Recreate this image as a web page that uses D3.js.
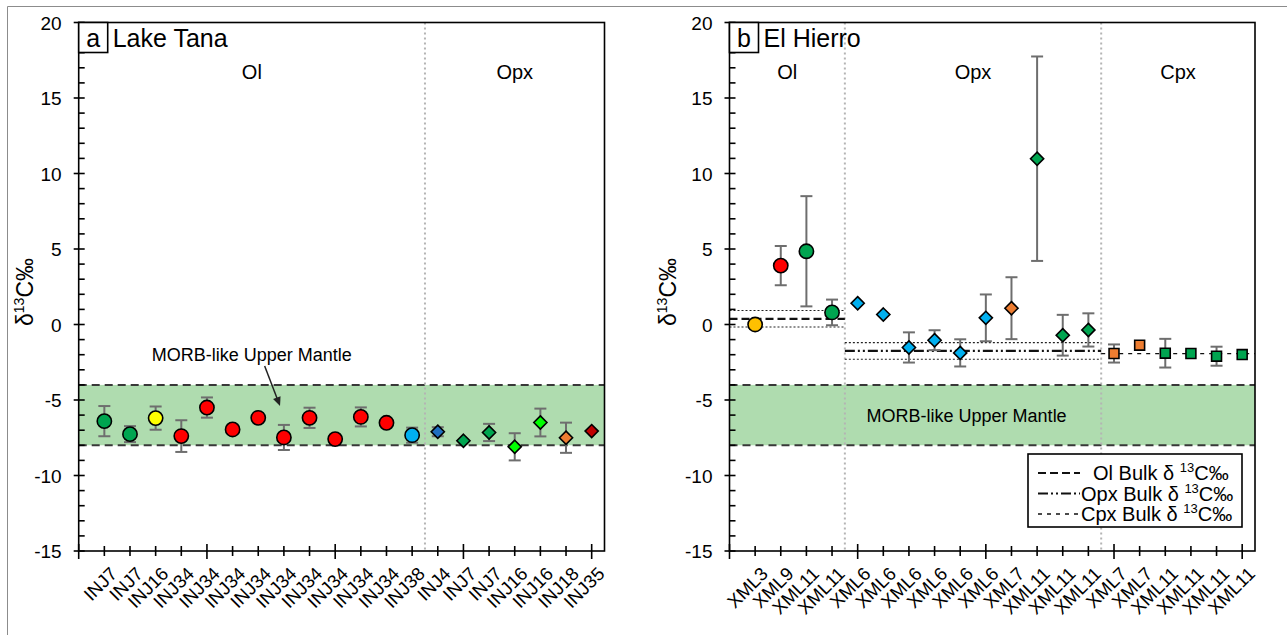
<!DOCTYPE html>
<html>
<head>
<meta charset="utf-8">
<script src="https://cdn.jsdelivr.net/npm/d3@7/dist/d3.min.js"></script>
<style>
  html, body { margin: 0; padding: 0; background: #fff; }
  svg { display: block; font-family: "Liberation Sans", Arial, sans-serif; }
</style>
</head>
<body>
<svg id="chart" width="1287" height="635"></svg>
<script>
// ---- Panel a: Lake Tana ----
const aLabels = ["INJ7","INJ7","INJ16","INJ34","INJ34","INJ34","INJ34","INJ34","INJ34","INJ34","INJ34","INJ34","INJ38",
                 "INJ4","INJ7","INJ7","INJ16","INJ16","INJ18","INJ35"];
const aValues = [-6.40,-7.26,-6.20,-7.39,-5.50,-6.95,-6.18,-7.48,-6.18,-7.59,-6.12,-6.51,-7.33,
                 -7.10,-7.70,-7.15,-8.10,-6.49,-7.50,-7.06];
const aErrors = [1.00,0.53,0.77,1.05,0.67,0,0,0.83,0.67,0,0.63,0,0.50,
                 0.30,0,0.57,0.90,0.92,1.00,0];
const aColors = ["#00a550","#00a550","#ffff00","#ff0000","#ff0000","#ff0000","#ff0000","#ff0000","#ff0000","#ff0000","#ff0000","#ff0000","#00b0f0",
                 "#1f6fc0","#00a550","#00a550","#00ff00","#00ff00","#ed7d31","#c00000"];
const aShapes = ["circle","circle","circle","circle","circle","circle","circle","circle","circle","circle","circle","circle","circle",
                 "diamond","diamond","diamond","diamond","diamond","diamond","diamond"];
const aGroups = [{name:"Ol", from:0, to:13.5}, {name:"Opx", from:13.5, to:20.5}];

// ---- Panel b: El Hierro ----
const bLabels = ["XML3","XML9","XML11","XML11",
                 "XML6","XML6","XML6","XML6","XML6","XML6","XML7","XML11","XML11","XML11",
                 "XML7","XML7","XML11","XML11","XML11","XML11"];
const bValues = [0.00,3.90,4.85,0.80,
                 1.41,0.66,-1.52,-1.04,-1.88,0.44,1.08,10.98,-0.71,-0.36,
                 -1.92,-1.37,-1.90,-1.92,-2.10,-1.99];
const bErrors = [0.30,1.30,3.65,0.85,
                 0,0,1.00,0.66,0.90,1.55,2.05,6.77,1.35,1.10,
                 0.60,0,0.95,0,0.63,0];
const bColors = ["#ffc000","#ff0000","#00a550","#00a550",
                 "#00b0f0","#00b0f0","#00b0f0","#00b0f0","#00b0f0","#00b0f0","#ed7d31","#00a550","#00a550","#00a550",
                 "#ed7d31","#ed7d31","#00a550","#00a550","#00a550","#00a550"];
const bShapes = ["circle","circle","circle","circle",
                 "diamond","diamond","diamond","diamond","diamond","diamond","diamond","diamond","diamond","diamond",
                 "square","square","square","square","square","square"];
const bGroups = [{name:"Ol", from:0, to:4.5}, {name:"Opx", from:4.5, to:14.5}, {name:"Cpx", from:14.5, to:20.5}];

// Bulk δ13C levels (mean and spread) for El Hierro minerals
const bulkMineral = ["Ol","Opx","Cpx"];
const bulkMean    = [0.37,-1.75,-1.93];
const bulkHigh    = [0.93,-1.20,null];
const bulkLow     = [-0.17,-2.30,null];

// MORB-like upper mantle range
const morbRange = [-8, -4];
const yMajorTicks = [-15,-10,-5,0,5,10,15,20];
const yMinorTicks = d3.range(-15, 21, 1);

const svg = d3.select("#chart");

// outer chart-area border
svg.append("path").attr("d", "M7.5,640 V6.5 H1300")
  .attr("fill", "none").attr("stroke", "#8c8c8c").attr("stroke-width", 1);

const lineStyles = {
  Ol:  {dash: "8,4", width: 2.2},
  Opx: {dash: "10,3,2,3,2,3", width: 2.2},
  Cpx: {dash: "4,5", width: 1.3}
};

function drawPanel(cfg) {
  const x = d3.scaleLinear().domain([0, 20.5]).range([cfg.left, cfg.right]);
  const y = d3.scaleLinear().domain([-15, 20]).range([cfg.bottom, cfg.top]);
  const g = svg.append("g");

  // MORB band
  g.append("rect")
    .attr("x", x(0)).attr("width", x(20.5) - x(0))
    .attr("y", y(morbRange[1])).attr("height", y(morbRange[0]) - y(morbRange[1]))
    .attr("fill", "#afdcaf");
  morbRange.forEach(v => {
    g.append("line").attr("x1", x(0)).attr("x2", x(20.5)).attr("y1", y(v)).attr("y2", y(v))
      .attr("stroke", "#383838").attr("stroke-width", 2).attr("stroke-dasharray", "8,5");
  });

  // mineral group dividers
  cfg.groups.slice(1).forEach(gr => {
    g.append("line").attr("x1", x(gr.from)).attr("x2", x(gr.from))
      .attr("y1", y(20)).attr("y2", y(-15))
      .attr("stroke", "#b4b4b4").attr("stroke-width", 2).attr("stroke-dasharray", "2,3");
  });

  // group names
  cfg.groups.forEach(gr => {
    g.append("text").attr("x", x((gr.from + gr.to) / 2)).attr("y", 79)
      .attr("text-anchor", "middle").attr("font-size", 20).attr("fill", "#000").text(gr.name);
  });

  if (cfg.bulk) {
    bulkMineral.forEach((m, i) => {
      const gr = cfg.groups.find(d => d.name === m);
      const st = lineStyles[m];
      g.append("line").attr("x1", x(gr.from)).attr("x2", x(gr.to))
        .attr("y1", y(bulkMean[i])).attr("y2", y(bulkMean[i]))
        .attr("stroke", "#111").attr("stroke-width", st.width).attr("stroke-dasharray", st.dash);
      [bulkHigh[i], bulkLow[i]].forEach(v => {
        if (v === null) return;
        g.append("line").attr("x1", x(gr.from)).attr("x2", x(gr.to))
          .attr("y1", y(v)).attr("y2", y(v))
          .attr("stroke", "#222").attr("stroke-width", 1.1).attr("stroke-dasharray", "2,2");
      });
    });
  }

  // MORB label
  g.append("text").attr("x", x(cfg.morbLabel[0])).attr("y", y(cfg.morbLabel[1]))
    .attr("text-anchor", "middle").attr("font-size", 18).attr("fill", "#000")
    .text("MORB-like Upper Mantle");
  if (cfg.arrow) {
    const [x1, y1, x2, y2] = [x(cfg.arrow[0]), y(cfg.arrow[1]), x(cfg.arrow[2]), y(cfg.arrow[3])];
    const ang = Math.atan2(y2 - y1, x2 - x1);
    g.append("line").attr("x1", x1).attr("y1", y1)
      .attr("x2", x2 - 6 * Math.cos(ang)).attr("y2", y2 - 6 * Math.sin(ang))
      .attr("stroke", "#222").attr("stroke-width", 1.5);
    const h = 9, w = 4;
    const p = [[x2, y2],
      [x2 - h * Math.cos(ang) + w * Math.sin(ang), y2 - h * Math.sin(ang) - w * Math.cos(ang)],
      [x2 - h * Math.cos(ang) - w * Math.sin(ang), y2 - h * Math.sin(ang) + w * Math.cos(ang)]];
    g.append("path").attr("d", "M" + p.join("L") + "Z").attr("fill", "#222");
  }

  // error bars
  const pts = cfg.values.map((v, i) => ({i: i + 1, v, e: cfg.errors[i], c: cfg.colors[i], s: cfg.shapes[i]}));
  const eb = g.append("g").attr("stroke", "#6e6e6e").attr("stroke-width", 2);
  pts.filter(d => d.e > 0).forEach(d => {
    eb.append("line").attr("x1", x(d.i)).attr("x2", x(d.i)).attr("y1", y(d.v + d.e)).attr("y2", y(d.v - d.e));
    [d.v + d.e, d.v - d.e].forEach(t => {
      eb.append("line").attr("x1", x(d.i) - 6).attr("x2", x(d.i) + 6).attr("y1", y(t)).attr("y2", y(t));
    });
  });

  // markers
  const sym = {circle: d3.symbolCircle, diamond: d3.symbolDiamond2, square: d3.symbolSquare2};
  const size = {circle: 160, diamond: 110, square: 125};
  g.selectAll("path.mk").data(pts).join("path").attr("class", "mk")
    .attr("transform", d => `translate(${x(d.i)},${y(d.v)})`)
    .attr("d", d => d3.symbol(sym[d.s], size[d.s])())
    .attr("fill", d => d.c).attr("stroke", "#000").attr("stroke-width", 1.6);

  // frame
  g.append("rect").attr("x", x(0)).attr("y", y(20)).attr("width", x(20.5) - x(0)).attr("height", y(-15) - y(20))
    .attr("fill", "none").attr("stroke", "#000").attr("stroke-width", 1.6);

  // y axis ticks
  const ax = g.append("g").attr("stroke", "#000").attr("stroke-width", 1.6);
  yMinorTicks.forEach(t => {
    const major = yMajorTicks.includes(t);
    ax.append("line").attr("x1", x(0) - (major ? 5 : 0)).attr("x2", x(0) + 6)
      .attr("y1", y(t)).attr("y2", y(t));
  });
  g.selectAll("text.yl").data(yMajorTicks).join("text").attr("class", "yl")
    .attr("x", x(0) - 17).attr("y", d => y(d) + 7)
    .attr("text-anchor", "end").attr("font-size", 19).attr("fill", "#000").text(d => d);

  // x axis ticks
  d3.range(0, 21).forEach(t => {
    const major = t % 5 === 0;
    ax.append("line").attr("x1", x(t)).attr("x2", x(t))
      .attr("y1", y(-15) - (major ? 7 : 5)).attr("y2", y(-15) + (major ? 8 : 5));
  });
  g.selectAll("text.xl").data(cfg.labels).join("text").attr("class", "xl")
    .attr("transform", (d, i) => `translate(${x(i + 1) + 14},${y(-15) + 24}) rotate(-45)`)
    .attr("text-anchor", "end").attr("font-size", 18.5).attr("fill", "#000").text(d => d);

  // y title
  const yt = g.append("text")
    .attr("transform", `translate(${cfg.titleX},292) rotate(-90)`)
    .attr("text-anchor", "middle").attr("font-size", 23).attr("fill", "#000");
  yt.append("tspan").text("δ");
  yt.append("tspan").attr("font-size", 14).attr("dy", -9).text("13");
  yt.append("tspan").attr("dy", 9).text("C‰");

  // panel tag and name
  g.append("rect").attr("x", x(0)).attr("y", y(20)).attr("width", 29).attr("height", 30)
    .attr("fill", "#fff").attr("stroke", "#000").attr("stroke-width", 1.6);
  g.append("text").attr("x", x(0) + 14.5).attr("y", y(20) + 24).attr("text-anchor", "middle")
    .attr("font-size", 25).attr("fill", "#000").text(cfg.tag);
  g.append("text").attr("x", x(0) + 34).attr("y", y(20) + 24)
    .attr("font-size", 25).attr("fill", "#000").text(cfg.name);

  return {x, y};
}

drawPanel({
  left: 78.7, right: 604.5, top: 22.5, bottom: 551,
  labels: aLabels, values: aValues, errors: aErrors, colors: aColors, shapes: aShapes,
  groups: aGroups, tag: "a", name: "Lake Tana", titleX: 33,
  morbLabel: [6.75, -2.45], arrow: [7.25, -2.75, 7.85, -5.4]
});

drawPanel({
  left: 729.5, right: 1255, top: 22.5, bottom: 551,
  labels: bLabels, values: bValues, errors: bErrors, colors: bColors, shapes: bShapes,
  groups: bGroups, tag: "b", name: "El Hierro", titleX: 676,
  morbLabel: [9.25, -6.45], bulk: true
});

// legend for bulk lines
const lg = svg.append("g");
lg.append("rect").attr("x", 1028).attr("y", 454).attr("width", 214).attr("height", 73)
  .attr("fill", "#fff").attr("stroke", "#000").attr("stroke-width", 1.6);
bulkMineral.forEach((m, i) => {
  const cy = 473 + i * 20.5;
  const st = lineStyles[m];
  lg.append("line").attr("x1", 1038).attr("x2", 1080).attr("y1", cy).attr("y2", cy)
    .attr("stroke", "#111").attr("stroke-width", st.width).attr("stroke-dasharray", st.dash);
  const t = lg.append("text").attr("x", m === "Ol" ? 1093 : 1081).attr("y", cy + 7)
    .attr("font-size", 20).attr("fill", "#000");
  t.append("tspan").text(m + " Bulk δ ");
  t.append("tspan").attr("font-size", 13).attr("dy", -8).text("13");
  t.append("tspan").attr("dy", 8).text("C‰");
});
</script>
</body>
</html>
